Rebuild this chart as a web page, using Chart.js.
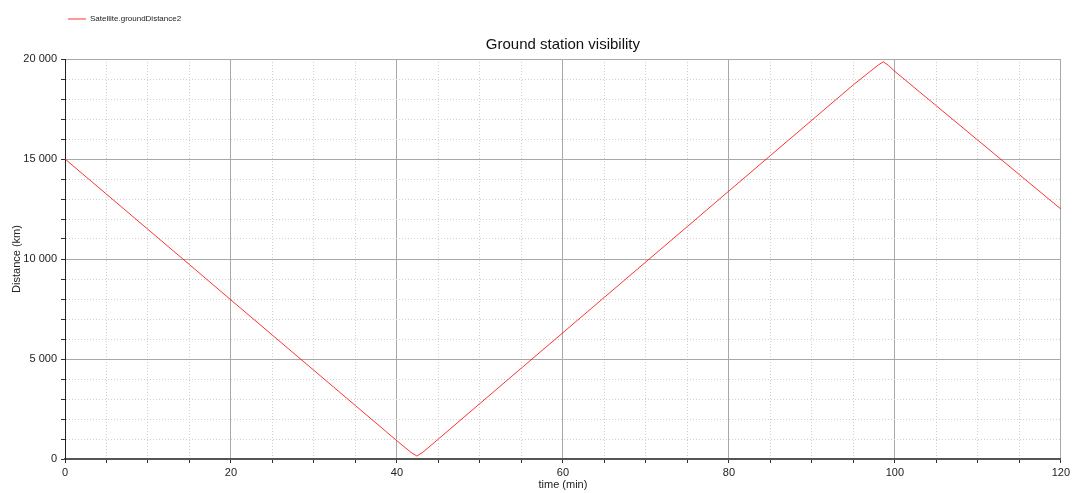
<!DOCTYPE html>
<html>
<head>
<meta charset="utf-8">
<script src="https://cdn.jsdelivr.net/npm/chart.js@4/dist/chart.umd.min.js"></script>
<style>
  html, body { margin: 0; padding: 0; background: #fff; }
  #wrap { width: 1073px; height: 493px; position: relative; }
</style>
</head>
<body>
<div id="wrap"><canvas id="groundChart"></canvas></div>
<script>
// time (min) and ground distance (km)
const times = [0, 5, 10, 15, 20, 25, 30, 35, 40, 41.7, 42.4, 43.1, 45, 50, 55, 60, 65, 70, 75, 80, 85, 90, 95, 98, 98.6, 99.2, 100, 105, 110, 115, 120];
const distances = [15000, 13240, 11480, 9720, 7950, 6190, 4430, 2670, 910, 330, 150, 330, 1000, 2775, 4545, 6315, 8085, 9855, 11625, 13400, 15170, 16940, 18710, 19700, 19860, 19690, 19380, 17660, 15940, 14220, 12500];
const seriesLabel = 'Satellite.groundDistance2';
const xMajor = 20, yMajor = 5000;

const fmt = v => String(v).replace(/\B(?=(\d{3})+(?!\d))/g, ' ');
const font = 'Liberation Sans';

const ctx = document.getElementById('groundChart').getContext('2d');

new Chart(ctx, {
    type: 'line',
    data: {
        datasets: [{
            label: seriesLabel,
            data: times.map((t, i) => ({ x: t, y: distances[i] })),
            borderColor: 'rgba(255, 0, 0, 0.8)',
            backgroundColor: 'rgba(255, 0, 0, 0.8)',
            borderWidth: 1,
            pointRadius: 0,
            tension: 0,
            fill: false
        }]
    },
    options: {
        responsive: true,
        maintainAspectRatio: false,
        animation: false,
        layout: { padding: { top: 12, right: 12, left: 0, bottom: 0 } },
        plugins: {
            legend: {
                position: 'top',
                align: 'start',
                fullSize: false,
                weight: 3000,
                labels: {
                    usePointStyle: true,
                    pointStyle: 'line',
                    pointStyleWidth: 18,
                    padding: 3,
                    color: '#222',
                    font: { family: font, size: 8 }
                }
            },
            title: {
                display: true,
                text: 'Ground station visibility',
                fullSize: false,
                color: '#111',
                font: { family: font, size: 15, weight: 'normal' },
                padding: { top: 3, bottom: 5 }
            },
            tooltip: { enabled: false }
        },
        scales: {
            x: {
                type: 'linear',
                min: 0,
                max: 120,
                afterFit: s => { s.height = 34; },
                ticks: {
                    stepSize: 5,
                    autoSkip: false,
                    maxRotation: 0,
                    padding: 3,
                    color: '#222',
                    font: { family: font, size: 11 },
                    callback: v => (v % xMajor === 0 ? fmt(v) : '')
                },
                grid: {
                    color: c => (c.tick && c.tick.value % xMajor === 0 ? '#a8a8a8' : '#d0d0d0'),
                    lineWidth: 1,
                    tickLength: 4,
                    tickColor: '#333',
                    tickBorderDash: []
                },
                border: {
                    color: '#555',
                    width: 2,
                    dash: c => (c.tick && c.tick.value % xMajor === 0 ? [] : [1, 2])
                },
                title: {
                    display: true,
                    text: 'time (min)',
                    color: '#222',
                    font: { family: font, size: 11 },
                    padding: { top: 0, bottom: 1 }
                }
            },
            y: {
                min: 0,
                max: 20000,
                afterFit: s => { s.width = 65; },
                ticks: {
                    stepSize: 1000,
                    autoSkip: false,
                    padding: 4,
                    color: '#222',
                    font: { family: font, size: 11 },
                    callback: v => (v % yMajor === 0 ? fmt(v) : '')
                },
                grid: {
                    color: c => (c.tick && c.tick.value % yMajor === 0 ? '#a8a8a8' : '#d0d0d0'),
                    lineWidth: 1,
                    tickLength: 4,
                    tickColor: '#333',
                    tickBorderDash: []
                },
                border: {
                    color: '#222',
                    width: 1,
                    dash: c => (c.tick && c.tick.value % yMajor === 0 ? [] : [1, 2])
                },
                title: {
                    display: true,
                    text: 'Distance (km)',
                    color: '#222',
                    font: { family: font, size: 11 },
                    padding: { top: 10, bottom: 0 }
                }
            }
        }
    }
});
</script>
</body>
</html>
